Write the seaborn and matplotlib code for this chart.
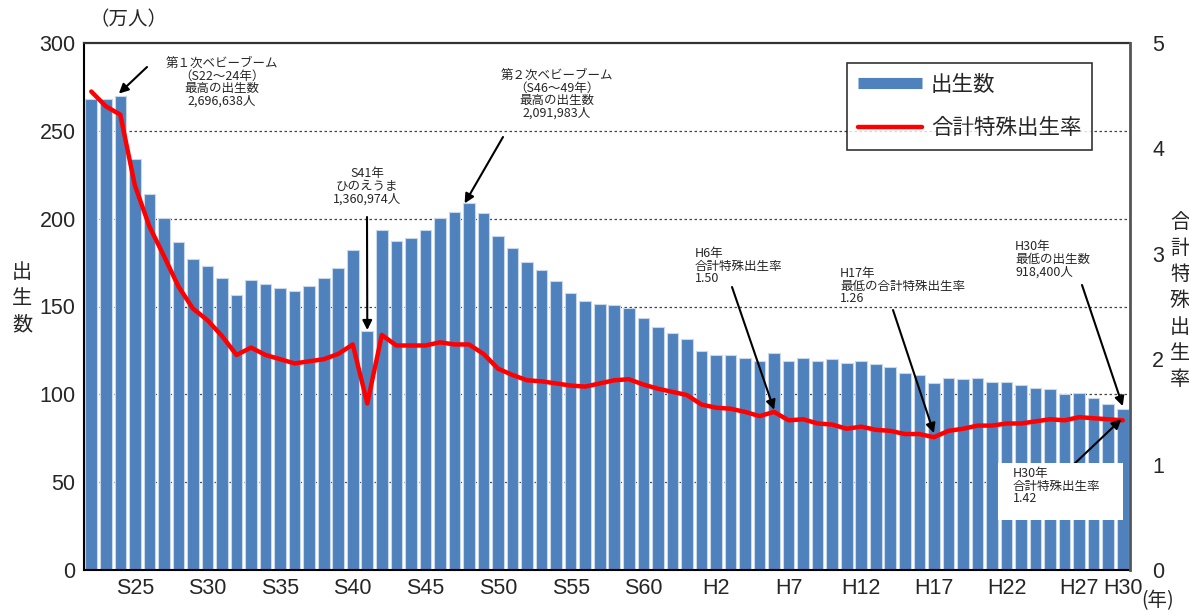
import numpy as np
import pandas as pd
import matplotlib
matplotlib.use("Agg")
import matplotlib.pyplot as plt
from matplotlib.lines import Line2D
import seaborn as sns

# ---- data -------------------------------------------------------------
# era year labels, S22 (1947) .. H30 (2018)
years = [f"S{n}" for n in range(22, 64)] + [f"H{n}" for n in range(1, 31)]

# live births (10,000 persons)
births = [267.9, 268.2, 269.7, 233.8, 213.8, 200.5, 186.8, 177.0, 173.1, 166.5,
          156.7, 165.3, 162.6, 160.6, 158.9, 161.9, 166.0, 171.7, 182.4, 136.1,
          193.6, 187.2, 189.0, 193.4, 200.1, 203.9, 209.2, 203.0, 190.1, 183.3,
          175.5, 170.9, 164.3, 157.7, 152.9, 151.5, 150.9, 149.0, 143.2, 138.3,
          134.7, 131.4, 124.7, 122.2, 122.3, 120.9, 118.8, 123.8, 118.7, 120.7,
          119.2, 120.3, 117.8, 119.1, 117.1, 115.4, 112.4, 111.1, 106.3, 109.3,
          109.0, 109.1, 107.0, 107.1, 105.1, 103.7, 103.0, 100.4, 100.6, 97.7,
          94.6, 91.8]

# total fertility rate
tfr = [4.54, 4.40, 4.32, 3.65, 3.26, 2.98, 2.69, 2.48, 2.37, 2.22,
       2.04, 2.11, 2.04, 2.00, 1.96, 1.98, 2.00, 2.05, 2.14, 1.58,
       2.23, 2.13, 2.13, 2.13, 2.16, 2.14, 2.14, 2.05, 1.91, 1.85,
       1.80, 1.79, 1.77, 1.75, 1.74, 1.77, 1.80, 1.81, 1.76, 1.72,
       1.69, 1.66, 1.57, 1.54, 1.53, 1.50, 1.46, 1.50, 1.42, 1.43,
       1.39, 1.38, 1.34, 1.36, 1.33, 1.32, 1.29, 1.29, 1.26, 1.32,
       1.34, 1.37, 1.37, 1.39, 1.39, 1.41, 1.43, 1.42, 1.45, 1.44,
       1.43, 1.42]

tick_labels = ["S25", "S30", "S35", "S40", "S45", "S50", "S55", "S60",
               "H2", "H7", "H12", "H17", "H22", "H27", "H30"]

left_ticks = [0, 50, 100, 150, 200, 250, 300]
right_ticks = [0, 1, 2, 3, 4, 5]

df = pd.DataFrame({"year": years, "births": births, "tfr": tfr})
pos = {y: i for i, y in enumerate(years)}

# ---- style ------------------------------------------------------------
sns.set_theme(style="white")
JP = ["Noto Sans CJK JP", "DejaVu Sans"]
NUM = ["Liberation Sans Narrow", "Liberation Sans", "DejaVu Sans"]
plt.rcParams["font.family"] = JP

BLUE = "#4F81BD"

W, H = 1189, 611
fig = plt.figure(figsize=(W / 100, H / 100), dpi=100)
fig.patch.set_facecolor("white")
ax = fig.add_axes([84 / W, 1 - 570 / H, (1130 - 84) / W, (570 - 43) / H])


def fp(x, y):
    """figure-fraction coordinates from pixel position (top-left origin)"""
    return (x / W, 1 - y / H)


# ---- bars -------------------------------------------------------------
sns.barplot(data=df, x="year", y="births", color=BLUE, saturation=1,
            width=0.8, edgecolor="#C9D7EA", linewidth=0.8, ax=ax, zorder=2)
ax.set_xlim(-0.5, len(years) - 0.5)
ax.set_ylim(0, 300)
ax.set_yticks(left_ticks)
ax.set_yticklabels([str(t) for t in left_ticks], family=NUM, fontsize=15.5)
ax.set_xticks([pos[t] for t in tick_labels])
ax.set_xticklabels(tick_labels, family=NUM, fontsize=15.5)
ax.tick_params(axis="both", length=0, pad=6)
ax.set_xlabel("")
ax.set_ylabel("")
ax.set_axisbelow(True)
for v in left_ticks[1:-1]:
    ax.axhline(v, color="#444444", lw=0.9, ls=(0, (2, 2)), zorder=0)

for side in ("left", "bottom"):
    ax.spines[side].set_color("black")
    ax.spines[side].set_linewidth(1.5)
ax.spines["top"].set_color("#333333")
ax.spines["top"].set_linewidth(1.6)
ax.spines["top"].set_linestyle((0, (1.5, 1)))
ax.spines["right"].set_visible(False)

# ---- fertility line on secondary axis ---------------------------------
ax2 = ax.twinx()
sns.lineplot(x=np.arange(len(years)), y=tfr, color="#FF0000", lw=3.2,
             ax=ax2, zorder=4)
ax2.set_xlim(-0.5, len(years) - 0.5)
ax2.set_ylim(0, 5)
ax2.set_yticks(right_ticks)
ax2.set_yticklabels([str(t) for t in right_ticks], family=NUM, fontsize=15.5)
ax2.tick_params(axis="y", length=0, pad=16)
ax2.spines["right"].set_color("#555555")
ax2.spines["right"].set_linewidth(2)
for side in ("left", "top", "bottom"):
    ax2.spines[side].set_visible(False)
ax2.grid(False)

# ---- axis captions ----------------------------------------------------
fig.text(*fp(90, 20), "（万人）", fontsize=14, ha="left", va="center")
for k, ch in enumerate("出生数"):
    fig.text(*fp(22, 273 + k * 26), ch, fontsize=14.5, ha="center", va="center")
for k, ch in enumerate("合計特殊出生率"):
    fig.text(*fp(1180, 222 + k * 26.3), ch, fontsize=14.5, ha="center", va="center")
fig.text(*fp(1158, 601), "(年)", fontsize=14, ha="center", va="center")

# ---- legend -----------------------------------------------------------
handles = [Line2D([], [], color=BLUE, lw=8, solid_capstyle="butt"),
           Line2D([], [], color="#FF0000", lw=3.2)]
leg = ax2.legend(handles, ["出生数", "合計特殊出生率"], loc="upper right",
                 bbox_to_anchor=(0.964, 0.962), fontsize=15.5, frameon=True,
                 fancybox=False, handlelength=3.0, handletextpad=0.4,
                 labelspacing=1.0, borderpad=0.5, borderaxespad=0)
leg.get_frame().set_edgecolor("black")
leg.get_frame().set_linewidth(1.2)
leg.set_zorder(10)

# ---- annotations ------------------------------------------------------
ann_fs = 9
arrow = dict(arrowstyle="-|>", color="black", lw=1.5, mutation_scale=14,
             shrinkA=0, shrinkB=0)


def note(axis, text, tip, tail, txt_xy, ha="center", box=None):
    axis.annotate("", xy=tip, xycoords="data", xytext=fp(*tail),
                  textcoords="figure fraction", arrowprops=arrow, zorder=6)
    fig.text(*fp(*txt_xy), text, fontsize=ann_fs, ha=ha, va="top",
             linespacing=0.97, bbox=box, zorder=7)


i = pos["S24"]
note(ax, "第１次ベビーブーム\n（S22～24年）\n最高の出生数\n2,696,638人",
     (i - 0.1, births[i] + 1.5), (147, 67), (222, 57))

i = pos["S41"]
note(ax, "S41年\nひのえうま\n1,360,974人",
     (i, births[i] + 0.5), (367, 217), (367, 167))

i = pos["S48"]
note(ax, "第２次ベビーブーム\n（S46～49年）\n最高の出生数\n2,091,983人",
     (i - 0.3, births[i] - 0.5), (503, 137), (557, 69))

i = pos["H6"]
note(ax2, "H6年\n合計特殊出生率\n1.50",
     (i, tfr[i] + 0.02), (732, 287), (695, 247), ha="left")

i = pos["H17"]
note(ax2, "H17年\n最低の合計特殊出生率\n1.26",
     (i, tfr[i] + 0.04), (893, 310), (840, 267), ha="left")

i = pos["H30"]
note(ax, "H30年\n最低の出生数\n918,400人",
     (i, births[i] + 1.5), (1082, 285), (1015, 240), ha="left")

# white label box for the final fertility rate
box_ax = fig.add_axes([998 / W, 1 - 520 / H, (1123 - 998) / W, (520 - 463) / H])
box_ax.set_facecolor("white")
box_ax.set_xticks([])
box_ax.set_yticks([])
for s in box_ax.spines.values():
    s.set_visible(False)
box_ax.text(15 / 125, 0.93, "H30年\n合計特殊出生率\n1.42", transform=box_ax.transAxes,
            fontsize=ann_fs, ha="left", va="top", linespacing=0.97)
i = pos["H30"]
ax2.annotate("", xy=(i - 0.1, tfr[i] + 0.01), xycoords="data", xytext=fp(1070, 468),
             textcoords="figure fraction", arrowprops=arrow, zorder=6)

fig.savefig("out.png", dpi=100, facecolor="white")
